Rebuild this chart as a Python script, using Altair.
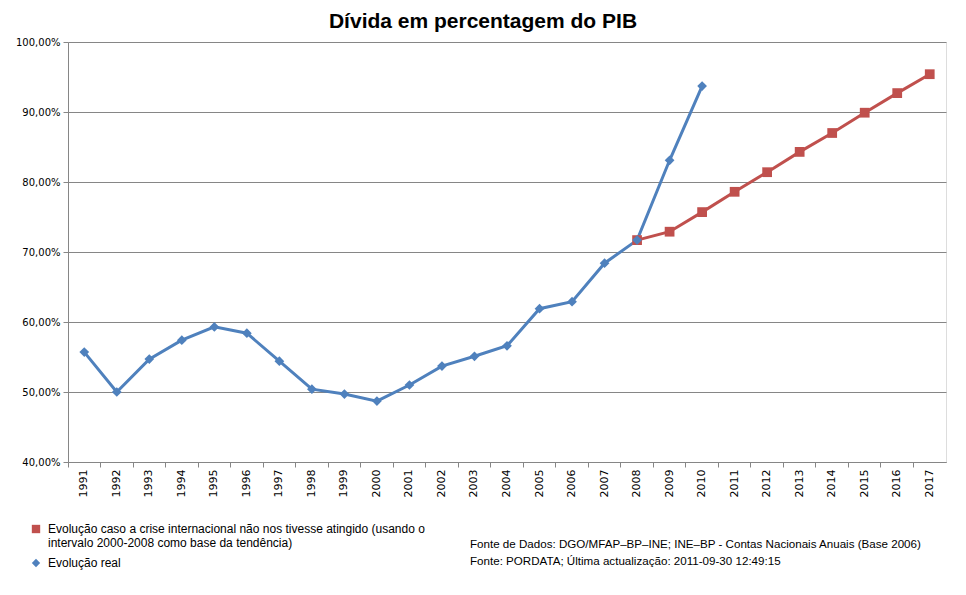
import altair as alt
import pandas as pd

years_real = list(range(1991, 2011))
real_values = [55.7, 50.0, 54.7, 57.4, 59.3, 58.4, 54.4, 50.4, 49.7, 48.7,
               51.0, 53.7, 55.1, 56.6, 61.9, 62.9, 68.4, 71.7, 83.1, 93.7]
years_trend = list(range(2008, 2018))
trend_values = [71.7, 72.9, 75.7, 78.6, 81.4, 84.3, 87.0, 89.9, 92.7, 95.4]
all_years = [str(y) for y in range(1991, 2018)]

s_trend = "Evolução caso a crise internacional não nos tivesse atingido (usando o\nintervalo 2000-2008 como base da tendência)"
s_real = "Evolução real"
series_order = [s_trend, s_real]
colors = ["#C0504D", "#4F81BD"]
shapes = ["square", "diamond"]

title_text = "Dívida em percentagem do PIB"
foot_lines = ["Fonte de Dados: DGO/MFAP–BP–INE;  INE–BP - Contas Nacionais Anuais (Base 2006)",
              "Fonte: PORDATA; Última actualização:  2011-09-30 12:49:15"]

rows = []
for y, v in zip(years_trend, trend_values):
    rows.append({"ano": str(y), "valor": v, "serie": s_trend})
for y, v in zip(years_real, real_values):
    rows.append({"ano": str(y), "valor": v, "serie": s_real})
df = pd.DataFrame(rows)

FONT = "DejaVu Sans"
LFONT = "Liberation Sans"

x_scale = alt.Scale(domain=all_years, paddingInner=0, paddingOuter=0)
x_main = alt.X("ano:N", scale=x_scale,
               axis=alt.Axis(title=None, labelAngle=-90, labelFont=FONT, labelFontSize=11,
                             labelColor="#000000", ticks=False, domainColor="#868686",
                             labelPadding=7, orient="bottom", grid=False))
x_noaxis = alt.X("ano:N", scale=x_scale, axis=None)
y_main = alt.Y("valor:Q", scale=alt.Scale(domain=[40, 100], nice=False, zero=False),
               axis=alt.Axis(title=None, values=[40, 50, 60, 70, 80, 90, 100],
                             labelExpr="replace(format(datum.value, '.2f'), '.', ',') + '%'",
                             labelFont=FONT, labelFontSize=10, labelColor="#000000",
                             gridColor="#868686", domainColor="#868686", tickColor="#868686",
                             tickSize=5, labelPadding=3))

leg = alt.Legend(title=None, orient="none", legendX=-38, legendY=481, padding=0,
                 labelFont=LFONT, labelFontSize=12, labelColor="#000000",
                 labelLimit=500, symbolSize=70, rowPadding=8, labelOffset=6,
                 labelExpr="split(datum.label, '\\n')", symbolStrokeWidth=0)
color = alt.Color("serie:N", scale=alt.Scale(domain=series_order, range=colors), legend=leg)
shape = alt.Shape("serie:N", scale=alt.Scale(domain=series_order, range=shapes), legend=leg)

base = alt.Chart(df)
lines = base.mark_line(strokeWidth=3).encode(x=x_main, y=y_main, color=color, detail="serie:N")
points = base.mark_point(filled=True, opacity=1, size=95).encode(
    x=x_noaxis, y=y_main, color=color, shape=shape)

ticks_df = pd.DataFrame({"ano": all_years})
tick_layer = alt.Chart(ticks_df).mark_tick(opacity=0).encode(
    x=alt.X("ano:N", scale=x_scale,
            axis=alt.Axis(title=None, labels=False, ticks=True, bandPosition=0, tickColor="#868686",
                          tickSize=5, domain=False, orient="bottom", grid=False)))

foot_df = pd.DataFrame({"t": ["\n".join(foot_lines)]})
foot = alt.Chart(foot_df).mark_text(align="left", baseline="top", font=LFONT, fontSize=11.6,
                                    color="#000000", lineBreak="\n", lineHeight=17).encode(
    text="t:N", x=alt.value(402), y=alt.value(497))

chart = alt.layer(lines, points, tick_layer, foot).resolve_axis(x="independent").properties(
    width=878, height=420,
    title=alt.TitleParams(title_text, font=LFONT, fontSize=21, fontWeight="bold", color="#000000",
                          anchor="middle", offset=5, dx=-24),
    autosize=alt.AutoSizeParams(type="none"),
    padding={"left": 60, "top": 34, "right": 12, "bottom": 125},
).configure_view(stroke=None).configure(background="white")

chart.save("out.html", embed_options={"renderer": "svg", "actions": False})
